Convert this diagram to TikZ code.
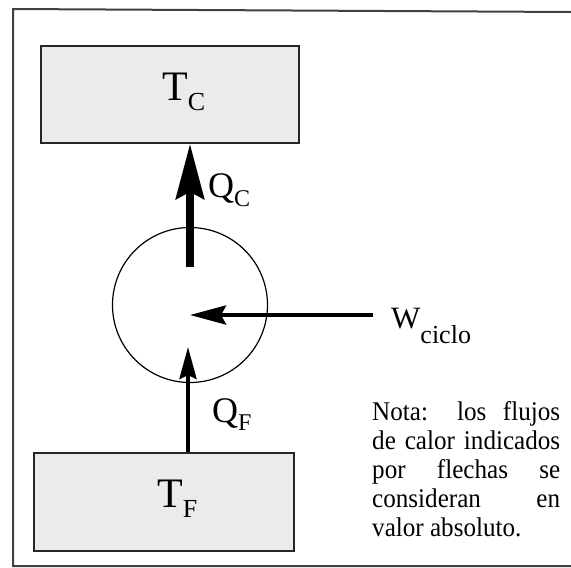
\documentclass[tikz,border=0pt]{standalone}
\usepackage{fontspec}
\setmainfont{Liberation Serif}
\newfontfamily\notefont[FakeStretch=0.93]{Liberation Serif}
\usetikzlibrary{arrows.meta}
\begin{document}
\begin{tikzpicture}[x=1pt,y=-1pt,
  res/.style={draw=black!85, line width=1.8pt, fill=black!8, anchor=north west, inner sep=0},
  lab/.style={anchor=base west, inner sep=0},
  heavy/.style={line width=8pt, -{Stealth[length=55pt,width=28pt,inset=7pt]}},
  medium/.style={line width=4pt, -{Stealth[length=36pt,width=19pt,inset=5pt]}},
  light/.style={line width=4pt, -{Stealth[length=32pt,width=17pt,inset=4pt]}}]
\useasboundingbox (0,0) rectangle (571,568);
% frame
\draw[line width=2pt, black!75] (571,12) -- (13,9) -- (13,566) -- (571,566);
% reservoirs
\node[res, minimum width=258pt, minimum height=97pt] (tc) at (40,45) {};
\node[res, minimum width=260pt, minimum height=98pt] (tf) at (33,452) {};
% engine
\node[circle, draw, line width=1.2pt, minimum size=155pt, inner sep=0] (eng) at (190,305) {};
% labels
\node[lab, font=\fontsize{42}{42}\selectfont] (ltc) at (162,100) {T\raisebox{-10pt}{\fontsize{26}{26}\selectfont C}};
\node[lab, font=\fontsize{42}{42}\selectfont] (ltf) at (157,507) {T\raisebox{-10pt}{\fontsize{26}{26}\selectfont F}};
\node[lab, font=\fontsize{36}{36}\selectfont] (lqc) at (208,197) {Q\raisebox{-9pt}{\fontsize{24}{24}\selectfont C}};
\node[lab, font=\fontsize{36}{36}\selectfont] (lqf) at (212,422) {Q\raisebox{-8pt}{\fontsize{24}{24}\selectfont F}};
\node[lab, font=\fontsize{31}{31}\selectfont] (lw) at (391,328) {W\raisebox{-15pt}{\fontsize{26}{26}\selectfont ciclo}};
% note
\node[anchor=north west, inner sep=0, text width=188pt, align=justify,
      font=\notefont\fontsize{27}{29}\selectfont] (nota) at (372,401)
  {Nota: los flujos\linebreak de calor indicados\linebreak por flechas se\linebreak consideran en\linebreak valor absoluto.};
% arrows
\coordinate (qc0) at (190,267);
\draw[heavy] (qc0) -- (qc0 |- tc.south);
\coordinate (w0) at (373,315);
\draw[medium] (w0) -- (eng.center |- w0);
\coordinate (qf1) at (188,347);
\draw[light] (qf1 |- tf.north) -- (qf1);
\end{tikzpicture}
\end{document}
